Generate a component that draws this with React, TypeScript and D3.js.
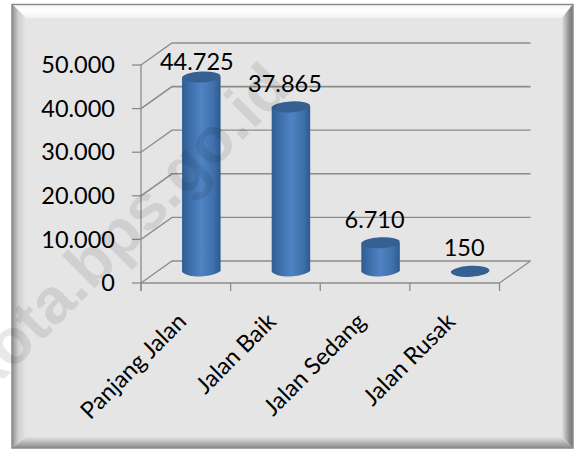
import React from "react";
import * as d3 from "d3";

const categories = ["Panjang Jalan", "Jalan Baik", "Jalan Sedang", "Jalan Rusak"];
const values = [44725, 37865, 6710, 150];
const valueLabels = ["44.725", "37.865", "6.710", "150"];
const yTicks = [0, 10000, 20000, 30000, 40000, 50000];
const yTickLabels = ["0", "10.000", "20.000", "30.000", "40.000", "50.000"];
const watermark = "kota.bps.go.id";

const W = 578, H = 450;
const FONT = "Lato, 'Open Sans', sans-serif";
const depthX = 31, depthY = -22;
const y = d3.scaleLinear().domain([0, 50000]).range([283, 65]);
const x = d3.scaleBand<string>().domain(categories).range([141, 499.5]).paddingInner(0).paddingOuter(0);
const GRID = "#8c8c8c";
const barW = 38.5, ry = 5.5;

export default function App() {
  const x0 = x.range()[0], x1 = x.range()[1];
  return (
    <svg width={W} height={H} viewBox={`0 0 ${W} ${H}`} style={{ position: "absolute", left: 0, top: 0 }} fontFamily={FONT}>
      <defs>
        <linearGradient id="cyl" x1="0" x2="1" y1="0" y2="0">
          <stop offset="0" stopColor="#2f5d92" />
          <stop offset="0.18" stopColor="#3c6ca6" />
          <stop offset="0.5" stopColor="#5083c4" />
          <stop offset="0.82" stopColor="#3e70aa" />
          <stop offset="1" stopColor="#2e5a8d" />
        </linearGradient>
        <linearGradient id="bl" x1="0" x2="1" y1="0" y2="0">
          <stop offset="0" stopColor="#8f8f8f" /><stop offset="0.45" stopColor="#cfcfcf" /><stop offset="1" stopColor="#e5e5e5" />
        </linearGradient>
        <linearGradient id="br" x1="0" x2="1" y1="0" y2="0">
          <stop offset="0" stopColor="#e0e0e0" /><stop offset="0.7" stopColor="#8a8a8a" /><stop offset="1" stopColor="#777" />
        </linearGradient>
        <linearGradient id="bb" x1="0" x2="0" y1="0" y2="1">
          <stop offset="0" stopColor="#e2e2e2" /><stop offset="1" stopColor="#8a8a8a" />
        </linearGradient>
        <linearGradient id="bt" x1="0" x2="0" y1="0" y2="1">
          <stop offset="0" stopColor="#f8f8f8" /><stop offset="0.5" stopColor="#ffffff" /><stop offset="1" stopColor="#f2f2f2" />
        </linearGradient>
      </defs>
      <rect width={W} height={H} fill="#fff" />
      {/* bevelled frame */}
      <rect x={12} y={4} width={561} height={444} fill="#e5e5e5" />
      <polygon points="12,4 573,4 562,18 26,18" fill="url(#bt)" />
      <polygon points="12,4 26,18 26,437 12,448" fill="url(#bl)" />
      <polygon points="573,4 562,18 562,437 573,448" fill="url(#br)" />
      <polygon points="12,448 26,437 562,437 573,448" fill="url(#bb)" />
      <rect x={12} y={4.5} width={561} height={443.5} fill="none" stroke="#8a8a8a" strokeWidth={1.5} />

      {/* gridlines */}
      {yTicks.map((t) => (
        <g key={t} stroke={GRID} fill="none" strokeWidth={t % 20000 === 0 && t > 0 ? 1.6 : 1.3}>
          <polyline points={`${x0},${y(t)} ${x0 + depthX},${y(t) + depthY} ${x1 + depthX},${y(t) + depthY}`} />
        </g>
      ))}
      <line x1={x0} x2={x0} y1={y(0) + 8} y2={y(50000)} stroke={GRID} strokeWidth={1.3} />
      <line x1={x0} x2={x1} y1={y(0)} y2={y(0)} stroke={GRID} strokeWidth={1.5} />
      <line x1={x1} x2={x1 + depthX} y1={y(0)} y2={y(0) + depthY} stroke={GRID} strokeWidth={1.3} />
      {yTicks.map((t) => (
        <line key={t} x1={x0 - 9} x2={x0} y1={y(t)} y2={y(t)} stroke={GRID} strokeWidth={1.3} />
      ))}
      {[...categories.map((c) => x(c)! + x.bandwidth()), x0].map((px, i) => (
        <line key={i} x1={px} x2={px} y1={y(0)} y2={y(0) + 8} stroke={GRID} strokeWidth={1.3} />
      ))}

      {/* y labels */}
      {yTicks.map((t, i) => (
        <text key={t} x={115} y={y(t)} dy="0.35em" textAnchor="end" fontSize={23.5} fill="#000">{yTickLabels[i]}</text>
      ))}

      {/* cylinders */}
      {categories.map((c, i) => {
        const cx = x(c)! + x.bandwidth() / 2 + depthX / 2;
        const base = y(0) + depthY / 2;
        const top = base - (y(0) - y(values[i]));
        const r = barW / 2;
        const body = d3.path();
        body.moveTo(cx - r, top);
        body.lineTo(cx - r, base);
        body.bezierCurveTo(cx - r * 0.6, base + ry * 1.3, cx + r * 0.6, base + ry * 0.9, cx + r, base - 1);
        body.lineTo(cx + r, top);
        body.closePath();
        return (
          <g key={c}>
            <path d={body.toString()} fill="url(#cyl)" />
            <ellipse cx={cx} cy={top} rx={r} ry={ry} transform={`rotate(-3 ${cx} ${top})`} fill="#366092" />
          </g>
        );
      })}

      {/* value labels */}
      {categories.map((c, i) => {
        const cx = x(c)! + x.bandwidth() / 2 + depthX / 2;
        const base = y(0) + depthY / 2;
        const top = base - (y(0) - y(values[i]));
        return (
          <text key={c} x={cx - (i === 0 ? 4.5 : 6)} y={top - (i === 0 ? 7 : 15)} textAnchor="middle" fontSize={23.5} fill="#000">{valueLabels[i]}</text>
        );
      })}

      {/* category labels */}
      {categories.map((c) => {
        const px = x(c)! + x.bandwidth() / 2;
        return (
          <text key={c} transform={`translate(${px + 2},${y(0) + 40}) rotate(-45)`} textAnchor="end" fontSize={23.5} fill="#000">{c}</text>
        );
      })}

      {/* watermark */}
      <text transform="translate(-14,397) rotate(-45)" fontSize={64} fontWeight="bold" fontFamily="'Liberation Sans', sans-serif" fill="#000" fillOpacity={0.09}>{watermark}</text>
    </svg>
  );
}
